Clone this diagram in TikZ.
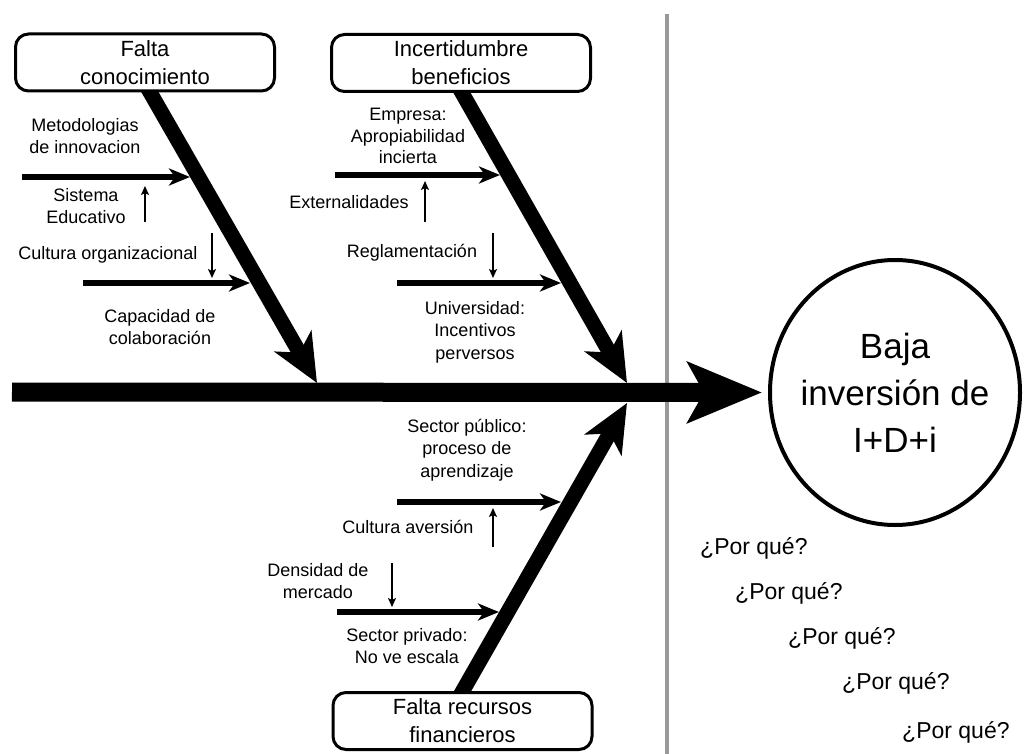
\documentclass[tikz,border=0pt]{standalone}
\usepackage{fontspec}
\setmainfont{Liberation Sans}
\usetikzlibrary{arrows.meta}
\usetikzlibrary{shapes.geometric}
\usetikzlibrary{backgrounds}

\tikzset{
  causebox/.style={draw, line width=3pt, fill=white, rounded corners=13pt,
    minimum width=259pt, minimum height=57pt, align=center, inner sep=0pt,
    font=\fontsize{22}{28}\selectfont},
  causetext/.style={align=center, inner sep=0pt,
    font=\fontsize{18}{22.5}\selectfont},
  bone/.style={line width=15pt, -{Stealth[length=48pt, width=42pt, inset=13pt]}},
  twig/.style={line width=5.5pt, -{Stealth[length=21pt, width=17pt, inset=6pt]}},
  nudge/.style={line width=1.8pt, -{Stealth[length=9pt, width=8pt, inset=2pt]}},
  spine/.style={line width=19pt, -{Stealth[length=74pt, width=60pt, inset=16pt]}},
  why/.style={anchor=west, inner sep=0pt, font=\fontsize{23}{27}\selectfont},
}

\begin{document}
\begin{tikzpicture}[x=1pt, y=-1pt]
  \useasboundingbox (0,0) rectangle (1025,754);
  % divider
  \draw[black!40, line width=4pt] (667,14) -- (667,754);
  % the three causes
  \node[causebox] (know)  at (145,62.5) {Falta\\conocimiento};
  \node[causebox] (doubt) at (461,63)   {Incertidumbre\\beneficios};
  \node[causebox] (funds) at (462.5,721) {Falta recursos\\financieros};
  % effect
  \node[draw, ellipse, line width=4pt, minimum width=250pt,
        minimum height=265pt, inner sep=0pt] (effect) at (895,392.5) {};
  \node[align=center, inner sep=0pt, font=\fontsize{35}{47}\selectfont]
    (effecttxt) at (effect.center) {Baja\\inversión de\\I+D+i};
  % tips of the bones on the spine
  \coordinate (tail) at (12,392);
  \coordinate (tipA) at (317,383);
  \coordinate (tipB) at (627,383);
  \coordinate (tipC) at (627,403);
  \begin{scope}[on background layer]
    \draw[bone] ([yshift=9pt]know.south) -- (tipA);
    \draw[bone] ([xshift=-4pt, yshift=9pt]doubt.south) -- (tipB);
    \draw[bone] ([xshift=-5pt, yshift=-9pt]funds.north) -- (tipC);
  \end{scope}
  \draw[spine] (tail) -- ([xshift=-6pt]effect.west);
  % sub-causes: {n/start/end/y}
  \foreach \n/\xa/\xb/\y in {1/22/190/177, 2/83/250/283, 3/335/500/175,
                             4/397/561/283, 5/397/561/502, 6/337/499/612} {
    \coordinate (t\n a) at (\xa,\y);
    \coordinate (t\n b) at (\xb,\y);
    \draw[twig] (t\n a) -- (t\n b);
  }
  % small pushes onto the sub-causes: {n/x/from/to}
  \foreach \n/\x/\ya/\yb in {1/145/222/186, 2/212/233/278, 3/425/222/181,
                             4/493/233/278, 5/493/547/508, 6/392/563/607} {
    \coordinate (n\n a) at (\x,\ya);
    \coordinate (n\n b) at (\x,\yb);
    \draw[nudge] (n\n a) -- (n\n b);
  }
  % labels
  \node[causetext] (metod)   at (85,136)  {Metodologias\\de innovacion};
  \node[causetext] (sisedu)  at (86,206)  {Sistema\\Educativo};
  \node[causetext] (cultorg) at (108,255) {Cultura organizacional};
  \node[causetext] (capcol)  at (160,327) {Capacidad de\\colaboración};
  \node[causetext, font=\fontsize{18}{21.5}\selectfont]
    (empresa) at (408,136) {Empresa:\\Apropiabilidad\\incierta};
  \node[causetext] (extern)  at (349,202) {Externalidades};
  \node[causetext] (reglam)  at (412,253) {Reglamentación};
  \node[causetext] (univ)    at (475,332) {Universidad:\\Incentivos\\perversos};
  \node[causetext] (secpub)  at (467,450) {Sector público:\\proceso de\\aprendizaje};
  \node[causetext] (cultav)  at (408,527) {Cultura aversión};
  \node[causetext] (densid)  at (318,581) {Densidad de\\mercado};
  \node[causetext] (secpriv) at (407,646) {Sector privado:\\No ve escala};
  % the five whys
  \foreach \i/\x/\y in {1/700/548, 2/735/593, 3/788/638, 4/842/683, 5/902/732}
    \node[why] (why\i) at (\x,\y) {¿Por qué?};
\end{tikzpicture}
\end{document}
